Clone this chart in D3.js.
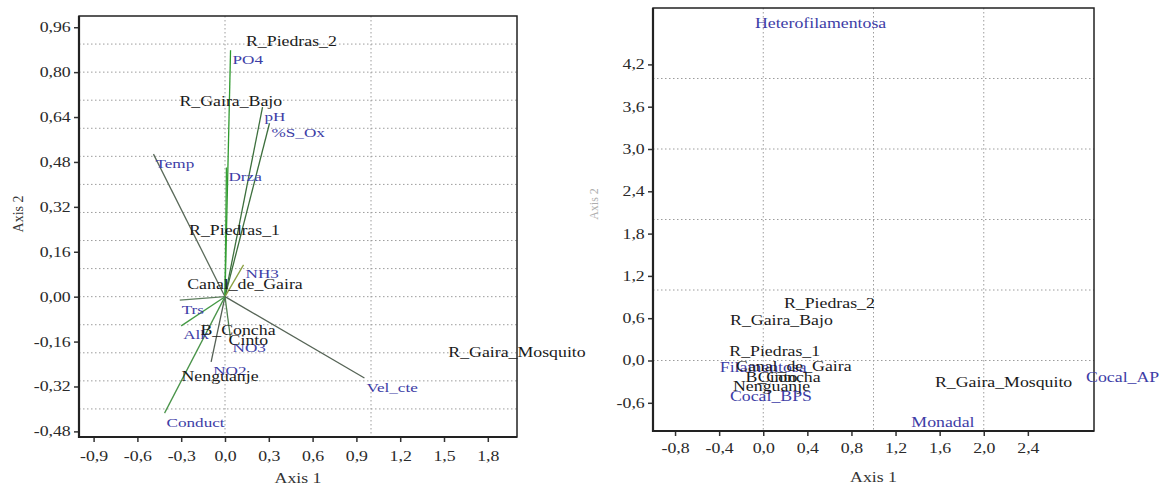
<!DOCTYPE html>
<html>
<head>
<meta charset="utf-8">
<script src="https://cdn.jsdelivr.net/npm/d3@7"></script>
<style>
  body { margin: 0; background: #fff; }
  text { font-family: "Liberation Serif", "DejaVu Serif", serif; }
</style>
</head>
<body>
<div class="chart"></div>
<script>
// Data
//= ================================
// left panel: environmental vectors (arrow tips)
var vectorNames = ["PO4", "pH", "%S_Ox", "Temp", "Drza", "NH3", "Trs", "Alk", "NO3", "NO2", "Conduct", "Vel_cte"];
var vectorX = [0.038, 0.257, 0.305, -0.49, 0.01, 0.127, -0.31, -0.30, 0.038, -0.095, -0.414, 0.955];
var vectorY = [0.878, 0.675, 0.618, 0.508, 0.46, 0.113, -0.012, -0.104, -0.150, -0.232, -0.415, -0.29];

// left panel: sites
var siteNames = ["R_Piedras_2", "R_Gaira_Bajo", "R_Piedras_1", "Canal_de_Gaira", "B_Concha", "Cinto", "Nenguanje", "R_Gaira_Mosquito"];
var siteX = [0.455, 0.04, 0.065, 0.137, 0.089, 0.16, -0.034, 2.0];
var siteY = [0.91, 0.696, 0.237, 0.045, -0.118, -0.154, -0.282, -0.197];

// right panel: sites
var site2X = [0.60, 0.165, 0.104, 0.277, 0.18, 0.13, 0.075, 2.18];
var site2Y = [0.81, 0.58, 0.13, -0.08, -0.24, -0.23, -0.36, -0.31];

// right panel: taxa
var taxaNames = ["Heterofilamentosa", "Filamentosa", "Cocal_BPS", "Cocal_AP", "Monadal"];
var taxaX = [0.52, 0.0, 0.07, 3.26, 1.63];
var taxaY = [4.79, -0.10, -0.51, -0.24, -0.88];

// ticks and grid
var leftXTicks = [-0.9, -0.6, -0.3, 0.0, 0.3, 0.6, 0.9, 1.2, 1.5, 1.8];
var leftYTicks = [-0.48, -0.32, -0.16, 0.0, 0.16, 0.32, 0.48, 0.64, 0.80, 0.96];
var leftGridX = [0, 1];
var leftGridY = [-0.4, -0.3, -0.2, -0.1, 0.0, 0.1, 0.2, 0.3, 0.4, 0.5, 0.6, 0.7, 0.8, 0.9];
var rightXTicks = [-0.8, -0.4, 0.0, 0.4, 0.8, 1.2, 1.6, 2.0, 2.4];
var rightYTicks = [-0.6, 0.0, 0.6, 1.2, 1.8, 2.4, 3.0, 3.6, 4.2];
var rightGridX = [0, 1, 2];
var rightGridY = [0, 1, 2, 3, 4];

// the reference picture is stretched sideways, so is the text here
var SX = 1.27;
var labelBlue = "#3d3da6";
var vecColor = d3.scaleOrdinal()
  .domain(vectorNames)
  .range(["#2f9a2f", "#3d6f3d", "#3d6f3d", "#5b6b5b", "#35a035", "#8aa040",
          "#5f7f5f", "#449a44", "#4f7f4f", "#556055", "#4a944a", "#566456"]);

var svg = d3.select(".chart").append("svg")
  .attr("width", 1165)
  .attr("height", 485);

function commaFormat(digits) {
  var f = d3.format("." + digits + "f");
  return function(d) { return f(d).replace(".", ",").replace("\u2212", "-"); };
}

function addText(g, x, y, str, opts) {
  opts = opts || {};
  return g.append("text")
    .attr("transform", "translate(" + x + "," + y + ") scale(" + SX + ",1)")
    .attr("text-anchor", opts.anchor || "start")
    .attr("dy", opts.dy || "0.35em")
    .attr("font-size", opts.size || 14)
    .attr("fill", opts.fill || "#1a1a1a")
    .text(str);
}

// draws frame, grid and axes for one panel
function drawPanel(x, y, cfg) {
  var g = svg.append("g");
  var x0 = x.range()[0], x1 = x.range()[1];
  var y0 = y.range()[1], y1 = y.range()[0];

  g.selectAll(".gy").data(cfg.gridY).enter().append("line")
    .attr("x1", x0).attr("x2", x1)
    .attr("y1", function(d) { return y(d); })
    .attr("y2", function(d) { return y(d); })
    .attr("stroke", "#9c9c9c").attr("stroke-width", 1)
    .attr("stroke-dasharray", "1.5,2.5");

  g.selectAll(".gx").data(cfg.gridX).enter().append("line")
    .attr("y1", y0).attr("y2", y1)
    .attr("x1", function(d) { return x(d); })
    .attr("x2", function(d) { return x(d); })
    .attr("stroke", "#9c9c9c").attr("stroke-width", 1)
    .attr("stroke-dasharray", "1.5,2.5");

  var bottomAxis = d3.axisBottom(x).tickValues(cfg.xTicks)
    .tickFormat(commaFormat(1)).tickSize(5).tickPadding(cfg.padX);
  var leftAxis = d3.axisLeft(y).tickValues(cfg.yTicks)
    .tickFormat(commaFormat(cfg.yDigits)).tickSize(5).tickPadding(1.5);

  var gx = g.append("g").attr("transform", "translate(0," + y1 + ")").call(bottomAxis);
  var gy = g.append("g").attr("transform", "translate(" + x0 + ",0)").call(leftAxis);
  [gx, gy].forEach(function(a) {
    a.select(".domain").remove();
    a.selectAll(".tick line").attr("stroke", "#333").attr("stroke-width", 1.5);
    a.selectAll(".tick text")
      .attr("font-size", 14)
      .attr("font-family", "Liberation Serif, serif")
      .attr("fill", "#2a2a2a")
      .attr("transform", "scale(" + SX + ",1)");
  });

  // frame
  g.append("rect")
    .attr("x", x0).attr("y", y0)
    .attr("width", x1 - x0).attr("height", y1 - y0)
    .attr("fill", "none").attr("stroke", "#222").attr("stroke-width", 1.5);
  g.append("path")
    .attr("d", "M" + x0 + "," + y0 + "V" + y1 + "H" + x1)
    .attr("fill", "none").attr("stroke", "#222").attr("stroke-width", 2.2);

  addText(g, (x0 + x1) / 2, cfg.titleY, "Axis 1", { anchor: "middle", fill: "#333" });
  return g;
}

// Left panel
//= ================================
var xLeft = d3.scaleLinear().domain([-1, 2]).range([79, 517]);
var yLeft = d3.scaleLinear().domain([-0.5, 1.0]).range([437, 16]);

var left = drawPanel(xLeft, yLeft, {
  gridX: leftGridX, gridY: leftGridY,
  xTicks: leftXTicks, yTicks: leftYTicks, yDigits: 2,
  padX: 9, titleY: 478
});

svg.append("text")
  .attr("transform", "translate(18,214) rotate(-90)")
  .attr("text-anchor", "middle")
  .attr("dy", "0.35em")
  .attr("font-size", 14)
  .attr("fill", "#333")
  .text("Axis 2");

var vectors = vectorNames.map(function(n, i) {
  return { name: n, x: vectorX[i], y: vectorY[i] };
});

left.selectAll(".vec").data(vectors).enter().append("line")
  .attr("x1", xLeft(0)).attr("y1", yLeft(0))
  .attr("x2", function(d) { return xLeft(d.x); })
  .attr("y2", function(d) { return yLeft(d.y); })
  .attr("stroke", function(d) { return vecColor(d.name); })
  .attr("stroke-width", 1.3);

vectors.forEach(function(d) {
  addText(left, xLeft(d.x) + 2, yLeft(d.y) + 3, d.name, { dy: "0.78em", fill: labelBlue, size: 13.5 });
});

siteNames.forEach(function(n, i) {
  addText(left, xLeft(siteX[i]), yLeft(siteY[i]), n, { anchor: "middle" });
});

// Right panel
//= ================================
var xRight = d3.scaleLinear().domain([-1, 3]).range([653, 1094]);
var yRight = d3.scaleLinear().domain([-1, 5]).range([431, 8]);

var right = drawPanel(xRight, yRight, {
  gridX: rightGridX, gridY: rightGridY,
  xTicks: rightXTicks, yTicks: rightYTicks, yDigits: 1,
  padX: 7, titleY: 477
});

// faint, mostly hidden y title of the right panel
svg.append("text")
  .attr("transform", "translate(594,204) rotate(-90)")
  .attr("text-anchor", "middle")
  .attr("dy", "0.35em")
  .attr("font-size", 12)
  .attr("fill", "#777")
  .attr("opacity", 0.6)
  .text("Axis 2");

taxaNames.forEach(function(n, i) {
  addText(right, xRight(taxaX[i]), yRight(taxaY[i]), n, { anchor: "middle", fill: labelBlue });
});

siteNames.forEach(function(n, i) {
  addText(right, xRight(site2X[i]), yRight(site2Y[i]), n, { anchor: "middle" });
});
</script>
</body>
</html>
